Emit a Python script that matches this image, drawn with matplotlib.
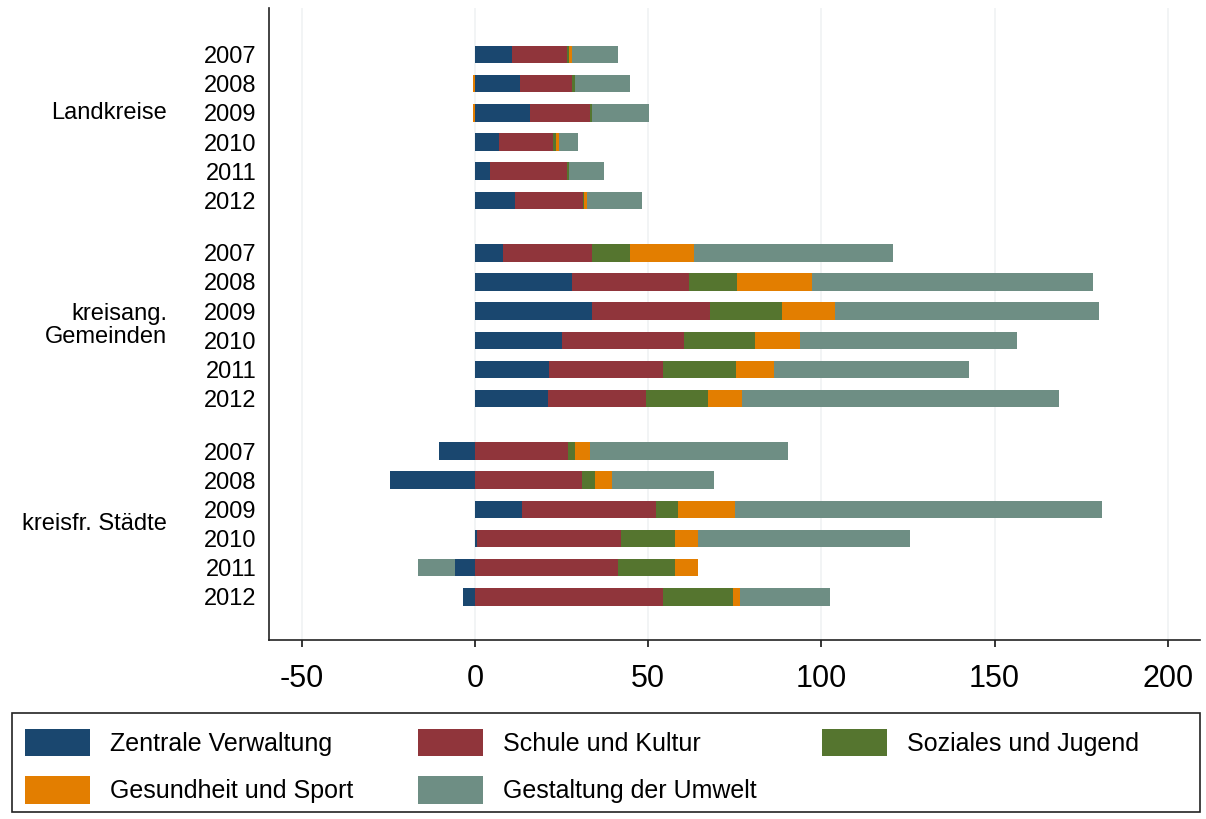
import numpy as np
import matplotlib
matplotlib.use('Agg')
import matplotlib.pyplot as plt
from matplotlib.patches import Rectangle
from matplotlib.transforms import blended_transform_factory

plt.rcParams['font.family'] = ['Liberation Sans', 'DejaVu Sans']

# data, per group: years 2007..2012
years = ['2007', '2008', '2009', '2010', '2011', '2012']
groups = ['Landkreise', 'kreisang.\nGemeinden', 'kreisfr. Städte']
categories = ['Zentrale Verwaltung', 'Schule und Kultur', 'Soziales und Jugend',
              'Gesundheit und Sport', 'Gestaltung der Umwelt']
colors = ['#1a476f', '#90353b', '#55752f', '#e37e00', '#6e8e84']

landkreise_verwaltung = [10.6, 13.0, 15.9, 7.0, 4.3, 11.6]
landkreise_schule = [15.9, 14.9, 17.3, 15.6, 22.2, 19.7]
landkreise_soziales = [0.5, 1.0, 0.5, 0.7, 0.7, 0.3]
landkreise_gesundheit = [1.0, -0.5, -0.5, 0.8, 0.0, 0.8]
landkreise_umwelt = [13.3, 15.7, 16.6, 5.5, 10.1, 15.9]

gemeinden_verwaltung = [8.2, 27.9, 33.7, 25.0, 21.5, 21.0]
gemeinden_schule = [25.5, 33.8, 34.2, 35.4, 32.7, 28.4]
gemeinden_soziales = [10.9, 13.9, 20.7, 20.5, 21.2, 18.0]
gemeinden_gesundheit = [18.7, 21.7, 15.4, 13.0, 10.8, 9.7]
gemeinden_umwelt = [57.5, 81.0, 76.1, 62.5, 56.3, 91.4]

staedte_verwaltung = [-10.4, -24.6, 13.5, 0.5, -5.8, -3.4]
staedte_schule = [26.8, 30.8, 38.7, 41.7, 41.2, 54.4]
staedte_soziales = [2.1, 3.9, 6.3, 15.6, 16.6, 20.1]
staedte_gesundheit = [4.3, 4.8, 16.6, 6.5, 6.5, 2.1]
staedte_umwelt = [57.1, 29.4, 105.9, 61.2, -10.8, 26.0]


def stack_matrix():
    '''
    Build a (5 categories x 18 rows) matrix, rows ordered group by group.
    '''
    per_cat = [
        landkreise_verwaltung + gemeinden_verwaltung + staedte_verwaltung,
        landkreise_schule + gemeinden_schule + staedte_schule,
        landkreise_soziales + gemeinden_soziales + staedte_soziales,
        landkreise_gesundheit + gemeinden_gesundheit + staedte_gesundheit,
        landkreise_umwelt + gemeinden_umwelt + staedte_umwelt,
    ]
    return np.array(per_cat, dtype=float)


values = stack_matrix()
n_years = len(years)
group_step = 6.8  # rows per group incl. gap
ypos = np.array([g * group_step + i for g in range(len(groups)) for i in range(n_years)])

fig = plt.figure(figsize=(12.06, 8.19), dpi=100)
ax = fig.add_axes([0.223, 0.2186, 0.772, 0.7714])

# positive and negative parts stack separately from zero
pos_left = np.zeros(values.shape[1])
neg_left = np.zeros(values.shape[1])
bars = []
for k, cat in enumerate(categories):
    v = values[k]
    left = np.where(v >= 0, pos_left, neg_left)
    b = ax.barh(ypos, v, left=left, height=0.6, color=colors[k], label=cat,
                edgecolor='none', zorder=3)
    bars.append(b)
    pos_left = pos_left + np.where(v >= 0, v, 0)
    neg_left = neg_left + np.where(v < 0, v, 0)

ax.set_xlim(-59.5, 209.3)
ax.set_ylim(ypos[-1] + 1.48, -1.59)
ax.set_xticks([-50, 0, 50, 100, 150, 200])
ax.set_xticklabels(['-50', '0', '50', '100', '150', '200'])
ax.tick_params(axis='x', labelsize=22, length=5, width=1.1, pad=12, direction='out')
ax.set_yticks(ypos)
ax.set_yticklabels(years * len(groups))
ax.tick_params(axis='y', labelsize=17, length=0, pad=9)
ax.grid(axis='x', color='#f0f2f4', linewidth=1.2, zorder=0)
ax.set_axisbelow(True)

for side in ['top', 'right']:
    ax.spines[side].set_visible(False)
for side in ['left', 'bottom']:
    ax.spines[side].set_linewidth(1.2)
    ax.spines[side].set_color('#222222')

# group labels to the left of the year labels
trans = blended_transform_factory(ax.transAxes, ax.transData)
label_y = [2, group_step + 2.5, 2 * group_step + 2.5]
for name, y in zip(groups, label_y):
    ax.text(-0.1096, y, name, transform=trans, ha='right', va='center',
            fontsize=17, linespacing=1.05)

# legend box spans the full width, entries sit left within it
W, H = 1206, 819
fig.patches.append(Rectangle((12 / W, 1 - 812 / H), 1188 / W, 99 / H,
                             transform=fig.transFigure, fill=False,
                             edgecolor='#222222', linewidth=1.2))

# legend filled row by row: matplotlib fills columns, so reorder
order = [0, 3, 1, 4, 2]
leg = fig.legend([bars[i] for i in order], [categories[i] for i in order],
                 loc='upper left', ncol=3, bbox_to_anchor=(25 / W, 1 - 729 / H),
                 fontsize=18, frameon=False, borderaxespad=0, borderpad=0,
                 handlelength=2.6, handleheight=1.3, handletextpad=0.8,
                 labelspacing=0.8, columnspacing=2.6)

fig.savefig('out.png', dpi=100, facecolor='white')
